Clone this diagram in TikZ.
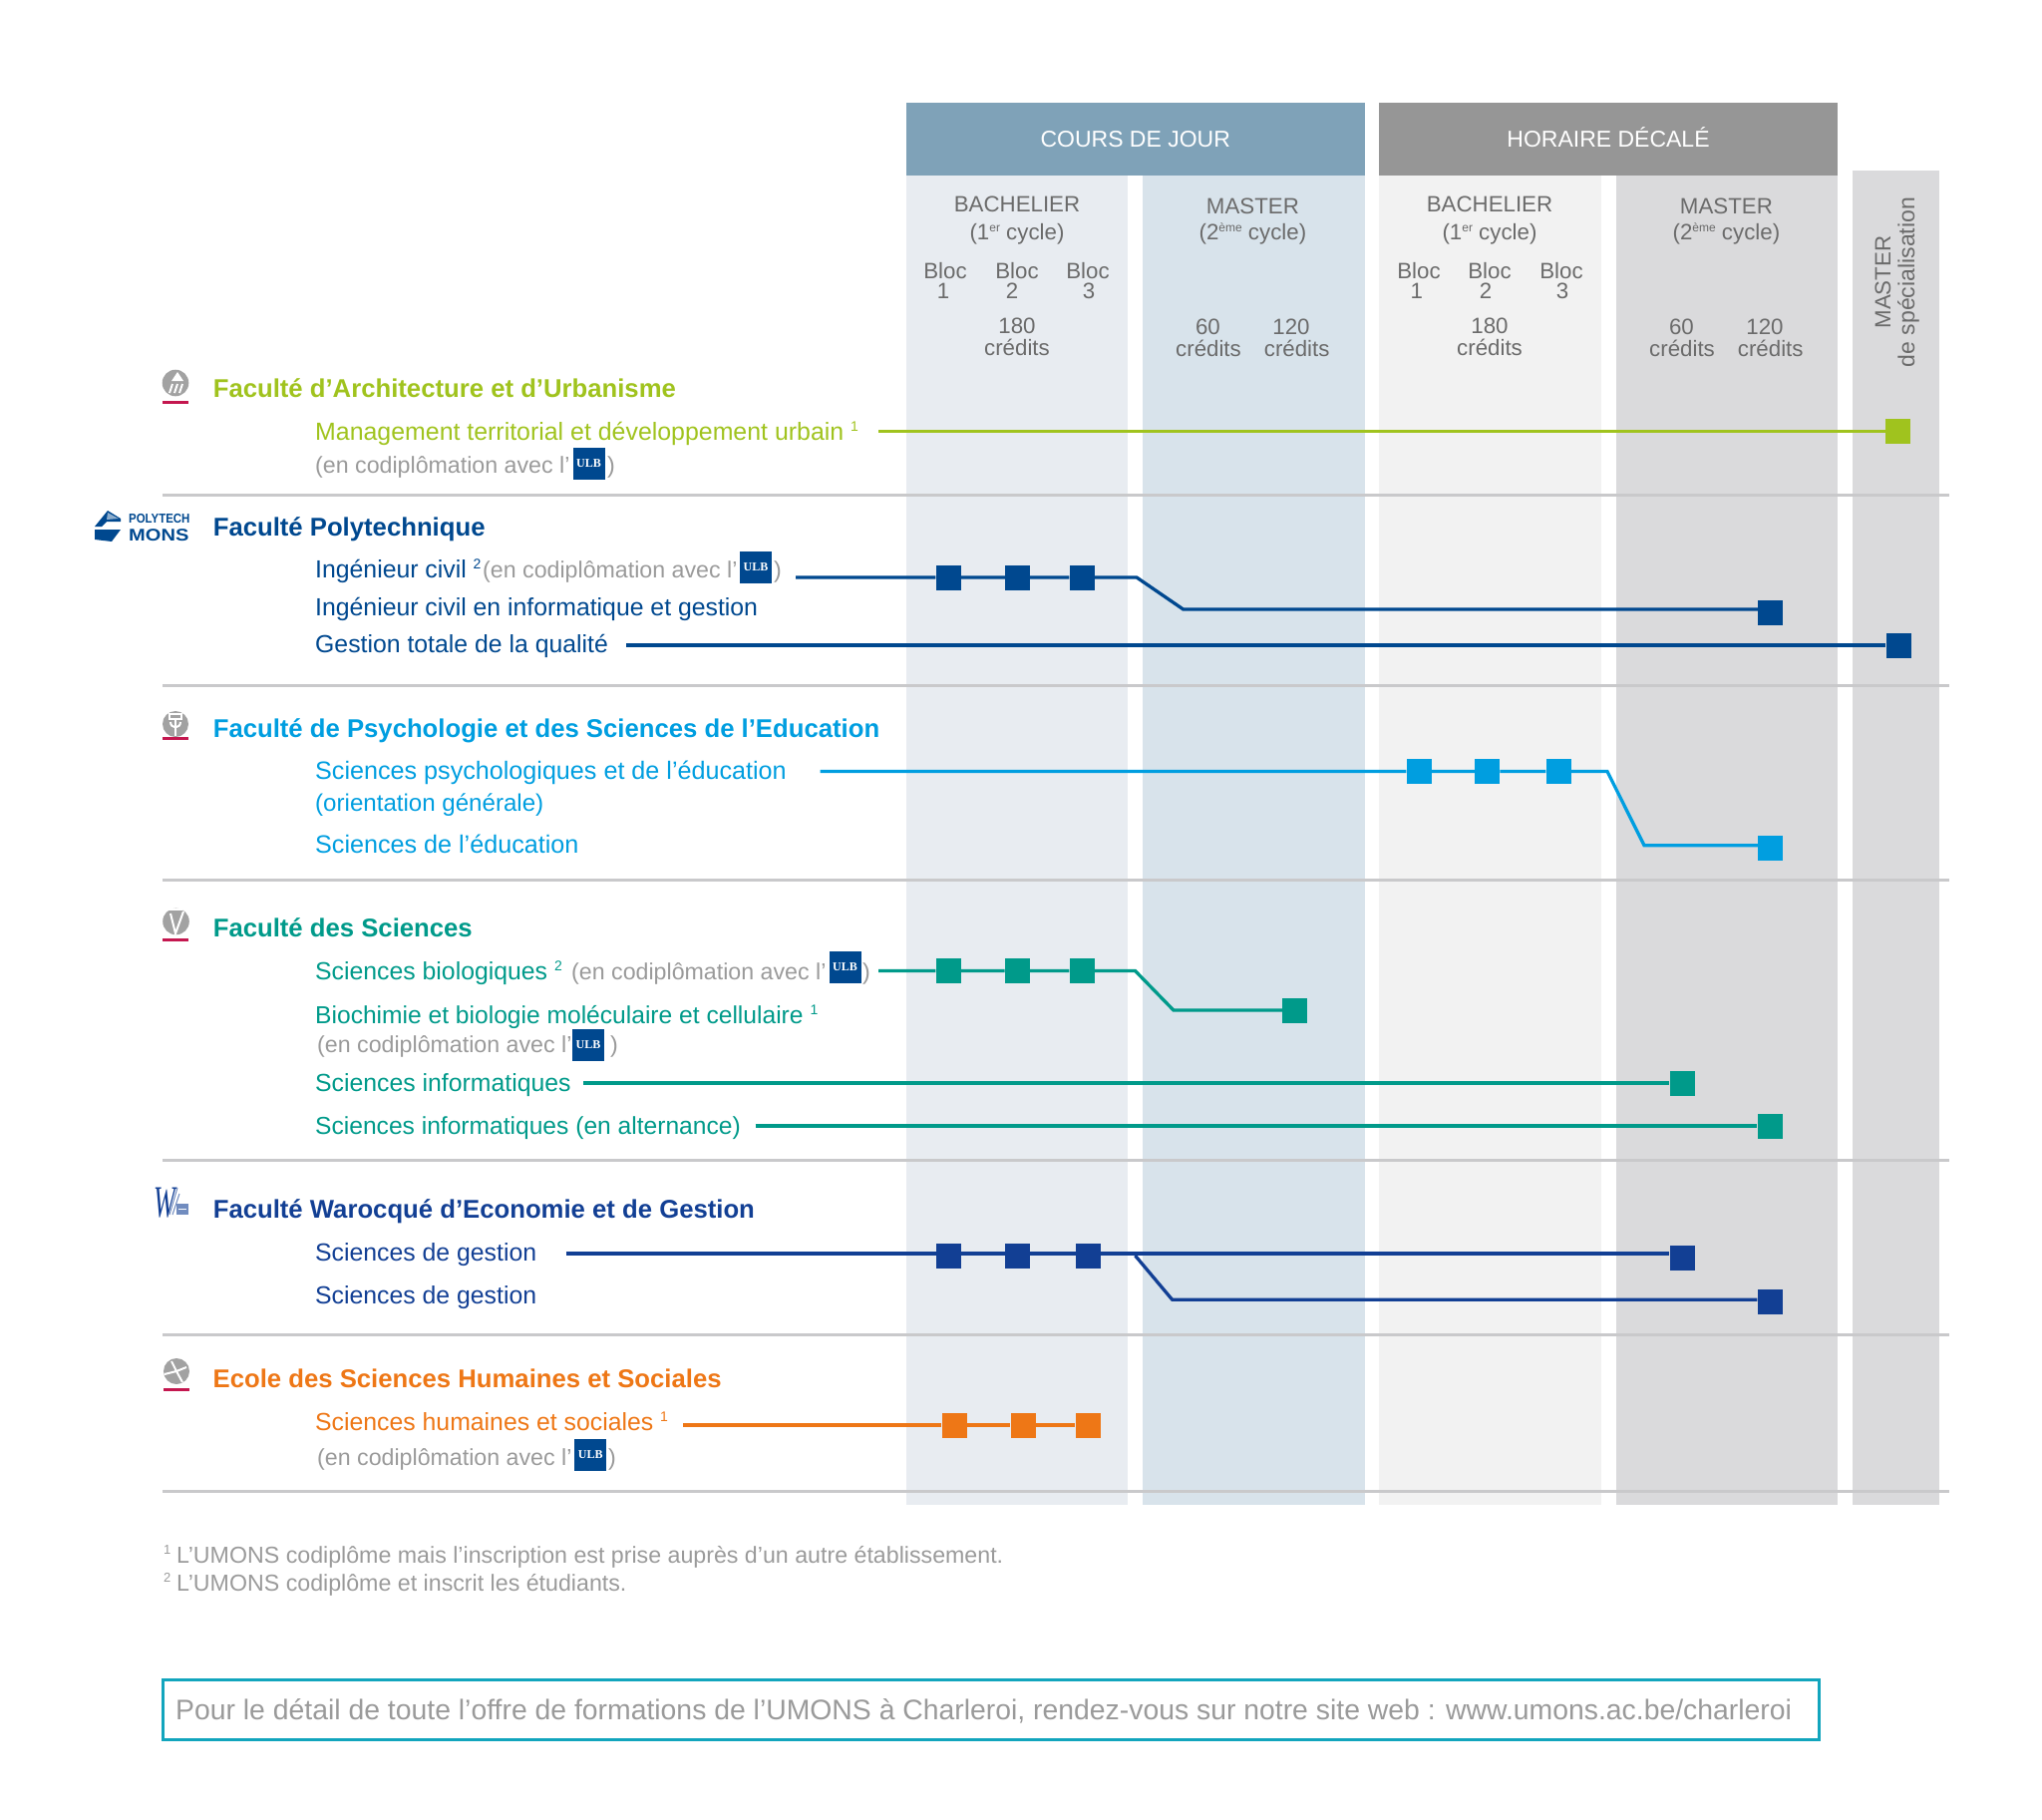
\documentclass[tikz,border=0pt]{standalone}
\usepackage{xcolor}
\usepackage{fontspec}
\setmainfont{Liberation Sans}
\newfontfamily\ulbfont{Liberation Serif}
\usepackage{tikz}
\definecolor{jourblue}{HTML}{7FA2B8}
\definecolor{decalgray}{HTML}{969696}
\definecolor{bandA}{HTML}{E8ECF1}
\definecolor{bandB}{HTML}{D8E3EB}
\definecolor{bandC}{HTML}{F2F2F2}
\definecolor{bandD}{HTML}{DADADC}
\definecolor{rulegray}{HTML}{C9C9CB}
\definecolor{headtext}{HTML}{6B6B6B}
\definecolor{notegray}{HTML}{9A9A9A}
\definecolor{archgreen}{HTML}{A0C31E}
\definecolor{polyblue}{HTML}{00488F}
\definecolor{psycyan}{HTML}{009EE0}
\definecolor{sciteal}{HTML}{009A8A}
\definecolor{warblue}{HTML}{123F94}
\definecolor{hsorange}{HTML}{EE7716}
\definecolor{logogray}{HTML}{A2A2A2}
\definecolor{logored}{HTML}{C4174F}
\definecolor{footcyan}{HTML}{12A5BD}
\newcommand{\cyclesup}[1]{\raisebox{8pt}{\fontsize{12}{13}\selectfont #1}}
\newcommand{\notesup}[1]{\raisebox{9pt}{\fontsize{14}{15}\selectfont #1}}
\tikzset{
    headbox/.style={inner sep=0pt, text=white, text height=17pt, text depth=0pt, font=\fontsize{23}{27}\selectfont},
    colhead/.style={anchor=base, inner sep=0pt, text=headtext, font=\fontsize{22.3}{27}\selectfont},
    sidehead/.style={colhead, rotate=90},
    faculty/.style={anchor=base west, inner sep=0pt, font=\bfseries\fontsize{25.7}{30}\selectfont},
    item/.style={anchor=base west, inner sep=0pt, font=\fontsize{24.8}{30}\selectfont},
    codip/.style={anchor=base west, inner sep=0pt, text=notegray, font=\fontsize{23.2}{27}\selectfont},
    ulbbox/.style={fill=polyblue, text=white, inner sep=0pt, minimum width=32pt, minimum height=32pt, font=\ulbfont\bfseries\fontsize{12}{14}\selectfont},
    blocsq/.style={inner sep=0pt, minimum size=25pt},
    link/.style={line width=3.3pt},
    sepline/.style={draw=rulegray, line width=3pt},
    logobar/.style={draw=logored, line width=3pt},
    logocut/.style={draw=white, line width=2pt},
    footnotetxt/.style={codip, font=\fontsize{23.2}{27}\selectfont}
}
\begin{document}
\begin{tikzpicture}[x=1pt, y=-1pt]
    \useasboundingbox (0,0) rectangle (2048,1825);
    \fill[bandA] (908.5,175) rectangle (1130.5,1509);
    \fill[bandB] (1145.5,175) rectangle (1368.5,1509);
    \fill[bandC] (1383,175) rectangle (1606,1509);
    \fill[bandD] (1621,175) rectangle (1843,1509);
    \fill[bandD] (1858,171) rectangle (1945,1509);
    \node[headbox, fill=jourblue, minimum width=460.5pt, minimum height=73pt] (jour) at (1138.75,139.3) {COURS DE JOUR};
    \node[headbox, fill=decalgray, minimum width=460pt, minimum height=73pt] (decale) at (1613,139.3) {HORAIRE DÉCALÉ};

    \node[colhead] (bacha) at (1020,212.7) {BACHELIER};
    \node[colhead] (cyclea) at (1020,240) {(1\cyclesup{er} cycle)};
    \node[colhead] (mastera) at (1256.4,214.3) {MASTER};
    \node[colhead] (cycleb) at (1256.4,240.7) {(2\cyclesup{ème} cycle)};
    \node[colhead] (bloca) at (948,279) {Bloc};
    \node[colhead] (numa) at (946,299.3) {1};
    \node[colhead] (blocb) at (1020,279) {Bloc};
    \node[colhead] (numb) at (1015,299.3) {2};
    \node[colhead] (blocc) at (1091,279) {Bloc};
    \node[colhead] (numc) at (1092,299.3) {3};
    \node[colhead] (creda) at (1020,334.7) {180};
    \node[colhead] (credatxt) at (1020,356.7) {crédits};
    \node[colhead] (credb) at (1211.4,335.7) {60};
    \node[colhead] (credbtxt) at (1212,357) {crédits};
    \node[colhead] (credc) at (1295,335.7) {120};
    \node[colhead] (credctxt) at (1300.7,357) {crédits};

    \node[colhead] (bachb) at (1494,212.7) {BACHELIER};
    \node[colhead] (cyclec) at (1494,240) {(1\cyclesup{er} cycle)};
    \node[colhead] (masterb) at (1731.4,214.3) {MASTER};
    \node[colhead] (cycled) at (1731.4,240.7) {(2\cyclesup{ème} cycle)};
    \node[colhead] (blocd) at (1423,279) {Bloc};
    \node[colhead] (numd) at (1420.7,299.3) {1};
    \node[colhead] (bloce) at (1494,279) {Bloc};
    \node[colhead] (nume) at (1490,299.3) {2};
    \node[colhead] (blocf) at (1566,279) {Bloc};
    \node[colhead] (numf) at (1567,299.3) {3};
    \node[colhead] (credd) at (1494,334.7) {180};
    \node[colhead] (creddtxt) at (1494,356.7) {crédits};
    \node[colhead] (crede) at (1686.4,335.7) {60};
    \node[colhead] (credetxt) at (1687,357) {crédits};
    \node[colhead] (credf) at (1770,335.7) {120};
    \node[colhead] (credftxt) at (1775.7,357) {crédits};

    \node[sidehead] (spectop) at (1896,283) {MASTER};
    \node[sidehead, font=\fontsize{23}{27}\selectfont] (specsub) at (1920,283) {de spécialisation};

    \coordinate (sepaL) at (163,496);
    \coordinate (sepaR) at (1955,496);
    \coordinate (sepbL) at (163,687);
    \coordinate (sepbR) at (1955,687);
    \coordinate (sepcL) at (163,882);
    \coordinate (sepcR) at (1955,882);
    \coordinate (sepdL) at (163,1163);
    \coordinate (sepdR) at (1955,1163);
    \coordinate (sepeL) at (163,1338);
    \coordinate (sepeR) at (1955,1338);
    \coordinate (sepfL) at (163,1495);
    \coordinate (sepfR) at (1955,1495);
    \draw[sepline] (sepaL) -- (sepaR);
    \draw[sepline] (sepbL) -- (sepbR);
    \draw[sepline] (sepcL) -- (sepcR);
    \draw[sepline] (sepdL) -- (sepdR);
    \draw[sepline] (sepeL) -- (sepeR);
    \draw[sepline] (sepfL) -- (sepfR);

    \node[faculty, text=archgreen] (archfac) at (213.6,398) {Faculté d’Architecture et d’Urbanisme};
    \node[item, text=archgreen, font=\fontsize{24.9}{30}\selectfont] (mgt) at (316,441) {Management territorial et développement urbain \notesup{1}};
    \node[codip] (mgtnote) at (316,474) {(en codiplômation avec l’};
    \node[ulbbox] (mgtulb) at (590.5,464.5) {ULB};
    \node[codip] (mgtclose) at (609,474) {)};
    \coordinate (mgtstart) at (881,432.5);
    \node[blocsq, fill=archgreen] (mgtend) at (1903.5,432.5) {};
    \draw[link, archgreen] (mgtstart) -- (mgtend);

    \node[faculty, text=polyblue] (polyfac) at (213.6,537) {Faculté Polytechnique};
    \node[item, text=polyblue] (civ) at (316,579) {Ingénieur civil \notesup{2}};
    \node[codip] (civnote) at (484,579) {(en codiplômation avec l’};
    \node[ulbbox] (civulb) at (758,569) {ULB};
    \node[codip] (civclose) at (776,579) {)};
    \node[item, text=polyblue] (civinfo) at (316,617) {Ingénieur civil en informatique et gestion};
    \node[item, text=polyblue] (qual) at (316,654) {Gestion totale de la qualité};
    \coordinate (civstart) at (798,579);
    \node[blocsq, fill=polyblue] (civa) at (951,579) {};
    \node[blocsq, fill=polyblue] (civb) at (1020.5,579) {};
    \node[blocsq, fill=polyblue] (civc) at (1085,579) {};
    \coordinate (civbend) at (1140,579);
    \coordinate (civlow) at (1186.7,611);
    \node[blocsq, fill=polyblue] (civend) at (1775.5,614) {};
    \draw[link, polyblue] (civstart) -- (civa) -- (civb) -- (civc) -- (civbend) -- (civlow) -- (civend.west |- civlow);
    \coordinate (qualstart) at (628,647);
    \node[blocsq, fill=polyblue] (qualend) at (1904,647) {};
    \draw[link, polyblue] (qualstart) -- (qualend);

    \node[faculty, text=psycyan] (psyfac) at (213.6,739.3) {Faculté de Psychologie et des Sciences de l’Education};
    \node[item, text=psycyan, font=\fontsize{25.15}{30}\selectfont] (psy) at (316,781.7) {Sciences psychologiques et de l’éducation};
    \node[item, text=psycyan, font=\fontsize{24.1}{30}\selectfont] (psyorient) at (316,813) {(orientation générale)};
    \node[item, text=psycyan, font=\fontsize{25.15}{30}\selectfont] (edu) at (316,855) {Sciences de l’éducation};
    \coordinate (psystart) at (822.6,773.5);
    \node[blocsq, fill=psycyan] (psya) at (1423,773.5) {};
    \node[blocsq, fill=psycyan] (psyb) at (1491.7,773.5) {};
    \node[blocsq, fill=psycyan] (psyc) at (1563,773.5) {};
    \coordinate (psybend) at (1612,773.5);
    \coordinate (psylow) at (1649,847.7);
    \node[blocsq, fill=psycyan] (psyend) at (1775.5,850) {};
    \draw[link, psycyan] (psystart) -- (psya) -- (psyb) -- (psyc) -- (psybend) -- (psylow) -- (psyend.west |- psylow);

    \node[faculty, text=sciteal] (scifac) at (213.6,939.3) {Faculté des Sciences};
    \node[item, text=sciteal] (bio) at (316,982) {Sciences biologiques \notesup{2}};
    \node[codip] (bionote) at (573,982) {(en codiplômation avec l’};
    \node[ulbbox] (bioulb) at (847.5,970) {ULB};
    \node[codip] (bioclose) at (865,982) {)};
    \node[item, text=sciteal, font=\fontsize{24.6}{30}\selectfont] (bioch) at (316,1026) {Biochimie et biologie moléculaire et cellulaire \notesup{1}};
    \node[codip] (biochnote) at (318,1055.7) {(en codiplômation avec l’};
    \node[ulbbox] (biochulb) at (590,1047.5) {ULB};
    \node[codip] (biochclose) at (612,1055.7) {)};
    \node[item, text=sciteal] (info) at (316,1094) {Sciences informatiques};
    \node[item, text=sciteal, font=\fontsize{24.6}{30}\selectfont] (alt) at (316,1137) {Sciences informatiques (en alternance)};
    \coordinate (biostart) at (881,973.5);
    \node[blocsq, fill=sciteal] (bioa) at (951,973.5) {};
    \node[blocsq, fill=sciteal] (biob) at (1020.3,973.5) {};
    \node[blocsq, fill=sciteal] (bioc) at (1085,973.5) {};
    \coordinate (biobend) at (1138.5,973.5);
    \coordinate (biolow) at (1177,1013);
    \node[blocsq, fill=sciteal] (bioend) at (1298.5,1013) {};
    \draw[link, sciteal] (biostart) -- (bioa) -- (biob) -- (bioc) -- (biobend) -- (biolow) -- (bioend);
    \coordinate (infostart) at (585,1086);
    \node[blocsq, fill=sciteal] (infoend) at (1687,1086) {};
    \draw[link, sciteal] (infostart) -- (infoend);
    \coordinate (altstart) at (757.6,1129);
    \node[blocsq, fill=sciteal] (altend) at (1775,1129) {};
    \draw[link, sciteal] (altstart) -- (altend);

    \node[faculty, text=warblue] (warfac) at (213.6,1221.7) {Faculté Warocqué d’Economie et de Gestion};
    \node[item, text=warblue] (ges) at (316,1264) {Sciences de gestion};
    \node[item, text=warblue] (gesb) at (316,1307) {Sciences de gestion};
    \coordinate (gesstart) at (567.8,1257);
    \node[blocsq, fill=warblue] (gesa) at (951,1259.5) {};
    \node[blocsq, fill=warblue] (gesc) at (1020.3,1259.5) {};
    \node[blocsq, fill=warblue] (gesd) at (1091,1259.5) {};
    \node[blocsq, fill=warblue] (gesend) at (1687,1261) {};
    \draw[link, warblue] (gesstart) -- (gesend.west |- gesstart);
    \coordinate (gesbend) at (1138.5,1259);
    \coordinate (geslow) at (1175.7,1303.3);
    \node[blocsq, fill=warblue] (gesendb) at (1775,1305) {};
    \draw[link, warblue] (gesbend) -- (geslow) -- (gesendb.west |- geslow);

    \node[faculty, text=hsorange] (hsfac) at (213.5,1391) {Ecole des Sciences Humaines et Sociales};
    \node[item, text=hsorange] (hs) at (316,1434) {Sciences humaines et sociales \notesup{1}};
    \node[codip] (hsnote) at (318,1469) {(en codiplômation avec l’};
    \node[ulbbox] (hsulb) at (592.3,1459) {ULB};
    \node[codip] (hsclose) at (610,1469) {)};
    \coordinate (hsstart) at (685,1429);
    \node[blocsq, fill=hsorange] (hsa) at (957,1429) {};
    \node[blocsq, fill=hsorange] (hsb) at (1026,1429) {};
    \node[blocsq, fill=hsorange] (hsc) at (1091,1429) {};
    \draw[link, hsorange] (hsstart) -- (hsa) -- (hsb) -- (hsc);

    \fill[logogray] (176,384) circle (13.3);
    \fill[white] (178,373) -- (172,382) -- (184,382) -- cycle;
    \draw[logocut] (170,394) -- (173,385) (175,394) -- (178,385) (180,394) -- (183,385);
    \draw[logobar] (163,403.3) -- (189,403.3);

    \fill[polyblue] (95,528) -- (108,512) -- (121,520) -- (121,523) -- (107,523) -- (102,528) -- cycle;
    \fill[polyblue] (95,531) -- (121,531) -- (112,543) -- (95,541) -- cycle;
    \fill[polyblue!45] (108,514) -- (119,520) -- (107,521) -- cycle;
    \node[anchor=base west, inner sep=0pt, text=polyblue, font=\bfseries\fontsize{13}{15}\selectfont] (polytxt) at (129,524) {\scalebox{0.88}[1]{POLYTECH}};
    \node[anchor=base west, inner sep=0pt, text=polyblue, font=\bfseries\fontsize{17}{19}\selectfont] (monstxt) at (129,542) {\scalebox{1.18}[1]{MONS}};

    \fill[logogray] (176,726) circle (13);
    \draw[logocut] (170,716) rectangle (182,721);
    \draw[logocut] (171,724) .. controls (171,731) and (181,731) .. (181,724);
    \draw[logocut] (176,721) -- (176,738);
    \draw[logobar] (163,740.7) -- (189,740.7);

    \fill[logogray] (176.5,924) circle (13.3);
    \draw[logocut] (168,912) -- (183,912);
    \draw[logocut] (171,916) -- (176,936) -- (184,914);
    \draw[logobar] (163,942) -- (189,942);

    \node[anchor=base, inner sep=0pt, text=warblue, font=\itshape\ulbfont\fontsize{36}{38}\selectfont] (warlogo) at (165,1220) {\scalebox{0.72}[1.25]{W}};
    \draw[warblue!60, line width=1pt] (170,1218) -- (178,1191);
    \draw[warblue!60, line width=1pt] (173,1218) -- (180,1197);
    \fill[warblue!60] (177,1207) rectangle (189,1218);
    \draw[white, line width=1pt] (179,1212.5) -- (187,1212.5);

    \fill[logogray] (177,1375) circle (13);
    \draw[logocut] (177,1375) -- (172,1365) (177,1375) -- (187,1371) (177,1375) -- (183,1386) (177,1375) -- (165,1378);
    \draw[logobar] (164,1393.7) -- (190,1393.7);

    \node[footnotetxt, font=\fontsize{13}{15}\selectfont] (supa) at (164,1558) {1};
    \node[footnotetxt] (notea) at (177,1567) {L’UMONS codiplôme mais l’inscription est prise auprès d’un autre établissement.};
    \node[footnotetxt, font=\fontsize{13}{15}\selectfont] (supb) at (164,1586) {2};
    \node[footnotetxt] (noteb) at (177,1595) {L’UMONS codiplôme et inscrit les étudiants.};

    \node[draw=footcyan, line width=3pt, minimum width=1661pt, minimum height=60pt, inner sep=0pt] (footbox) at (993.5,1714) {};
    \node[codip, font=\fontsize{28.36}{34}\selectfont] (foottxt) at (176,1724) {Pour le détail de toute l’offre de formations de l’UMONS à Charleroi, rendez-vous sur notre site web : www.umons.ac.be/charleroi};
\end{tikzpicture}
\end{document}
